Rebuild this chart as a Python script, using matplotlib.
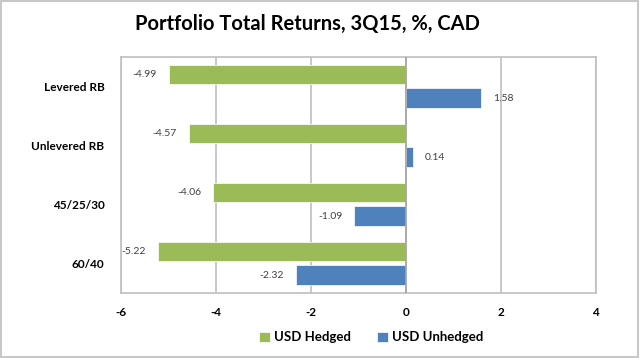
import matplotlib.pyplot as plt
import numpy as np
from matplotlib.patches import Rectangle

plt.rcParams['font.family'] = ['Lato', 'DejaVu Sans']

categories = ['Levered RB', 'Unlevered RB', '45/25/30', '60/40']
usd_hedged = [-4.99, -4.57, -4.06, -5.22]
usd_unhedged = [1.58, 0.14, -1.09, -2.32]
xticks = [-6, -4, -2, 0, 2, 4]

green = '#9BBB59'
blue = '#4F81BD'
grid_col = '#BFBFBF'

fig = plt.figure(figsize=(6.4, 3.58), dpi=100)
ax = fig.add_axes([0.189, 0.182, 0.742, 0.659])

y = np.arange(len(categories))[::-1]
h = 0.33
ax.barh(y + 0.2, usd_hedged, height=h, color=green, edgecolor='white', linewidth=0.5,
        label='USD Hedged', zorder=3)
ax.barh(y - 0.2, usd_unhedged, height=h, color=blue, edgecolor='white', linewidth=0.5,
        label='USD Unhedged', zorder=3)

# data labels
for yy, vals in [(y + 0.2, usd_hedged), (y - 0.2, usd_unhedged)]:
    for yi, v in zip(yy, vals):
        off = -0.25 if v < 0 else 0.25
        ax.text(v + off, yi, f'{v:.2f}', ha='right' if v < 0 else 'left', va='center',
                fontsize=7.5, color='#404040')

ax.set_xlim(-6, 4)
ax.set_ylim(-0.5, 3.5)
ax.set_xticks(xticks)
ax.set_xticklabels([str(t) for t in xticks], fontweight='bold', fontsize=8.5)
ax.set_yticks(y)
ax.set_yticklabels(categories, fontweight='bold', fontsize=8.5)
ax.tick_params(length=0, pad=10)
ax.tick_params(axis='y', pad=12)
ax.xaxis.grid(True, color=grid_col, linewidth=1.2, zorder=0)
ax.axvline(0, color='#A6A6A6', linewidth=1.2, zorder=4)
for s in ax.spines.values():
    s.set_color(grid_col)
    s.set_linewidth(1.2)

fig.text(0.48, 0.932, 'Portfolio Total Returns, 3Q15, %, CAD', ha='center', va='center',
         fontsize=14.5, fontweight='bold')

fig.legend(loc='center', bbox_to_anchor=(0.58, 0.058), ncol=2, frameon=False,
           prop={'weight': 'bold', 'size': 9.5}, handlelength=0.8, handleheight=0.8,
           handletextpad=0.3, columnspacing=2.0)

fig.patches.append(Rectangle((0.002, 0.003), 0.995, 0.993, transform=fig.transFigure,
                             fill=False, edgecolor='#C8C8C8', linewidth=1.5))

fig.savefig('out.png', dpi=100)
